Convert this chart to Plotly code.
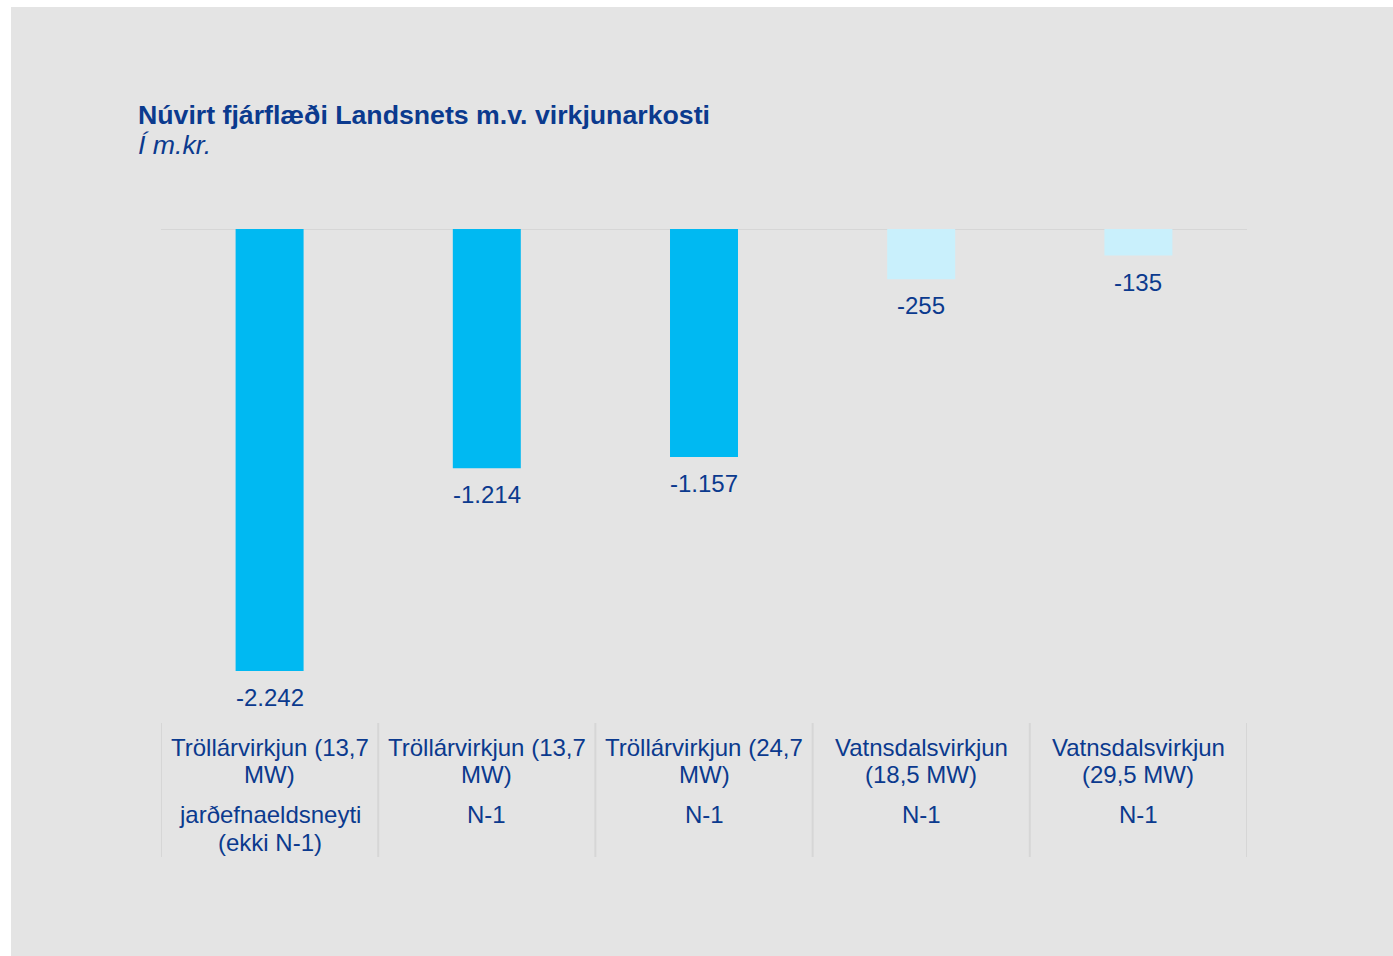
import plotly.graph_objects as go

# data
plants = ['Tröllárvirkjun (13,7<br>MW)', 'Tröllárvirkjun (13,7<br>MW)', 'Tröllárvirkjun (24,7<br>MW)',
          'Vatnsdalsvirkjun<br>(18,5 MW)', 'Vatnsdalsvirkjun<br>(29,5 MW)']
cases = ['jarðefnaeldsneyti<br>(ekki N-1)', 'N-1', 'N-1', 'N-1', 'N-1']
values = [-2242, -1214, -1157, -255, -135]
bar_colors = ['#00b9f2', '#00b9f2', '#00b9f2', '#c9f0fc', '#c9f0fc']

title = 'Núvirt fjárflæði Landsnets m.v. virkjunarkosti'
subtitle = 'Í m.kr.'

FONT = 'Liberation Sans, Arial, sans-serif'
DARK = '#0b3a8e'
BG = '#e4e4e4'
LINE = '#d6d6d6'

PLOT_H = 494  # px height of plot area


def py(offset):
    # pixels below the plot bottom -> paper y
    return -offset / PLOT_H


x = list(range(len(values)))

fig = go.Figure()
fig.add_trace(go.Bar(
    x=x,
    y=values,
    marker={'color': bar_colors, 'line': {'width': 0}},
    width=0.313,
    hoverinfo='skip',
))

# value labels under each bar
for i, v in enumerate(values):
    fig.add_annotation(x=i, y=v, xref='x', yref='y', text=f'{v:,}'.replace(',', '.'),
                       showarrow=False, yanchor='middle', yshift=-26.5,
                       font={'size': 24, 'color': DARK, 'family': FONT})

# category labels (two levels), one annotation per line for tighter spacing
for i in x:
    for j, line in enumerate(plants[i].split('<br>')):
        fig.add_annotation(x=i, y=py(24 + 28 * j), xref='x', yref='paper', text=line,
                           showarrow=False, yanchor='middle',
                           font={'size': 24, 'color': DARK, 'family': FONT})
    for j, line in enumerate(cases[i].split('<br>')):
        fig.add_annotation(x=i, y=py(91 + 28 * j), xref='x', yref='paper', text=line,
                           showarrow=False, yanchor='middle',
                           font={'size': 24, 'color': DARK, 'family': FONT})

# gray card behind everything
fig.add_shape(type='rect', xref='paper', yref='paper', x0=-0.1381, x1=1.2, y0=-0.6, y1=1.4494,
              fillcolor=BG, line={'width': 0}, layer='below')

# zero line
fig.add_shape(type='line', xref='paper', yref='y', x0=0, x1=1, y0=0, y1=0,
              line={'color': LINE, 'width': 2}, layer='below')

# category separators
for k in range(len(values) + 1):
    fig.add_shape(type='line', xref='x', yref='paper', x0=k - 0.5, x1=k - 0.5, y0=0, y1=py(134),
                  line={'color': LINE, 'width': 2}, layer='below')

# title + subtitle
fig.add_annotation(x=-0.023, y=py(115 - 723), xref='paper', yref='paper', xanchor='left', yanchor='middle',
                   text=f'<b>{title}</b>', showarrow=False,
                   font={'size': 26.7, 'color': DARK, 'family': FONT})
fig.add_annotation(x=-0.023, y=py(145 - 723), xref='paper', yref='paper', xanchor='left', yanchor='middle',
                   text=f'<i>{subtitle}</i>', showarrow=False,
                   font={'size': 26.7, 'color': DARK, 'family': FONT})

fig.update_layout(
    width=1393,
    height=956,
    margin={'l': 161, 'r': 146, 't': 229, 'b': 233},
    paper_bgcolor='white',
    plot_bgcolor='rgba(0,0,0,0)',
    showlegend=False,
    font={'family': FONT, 'color': DARK},
)
fig.update_xaxes(range=[-0.5, 4.5], showticklabels=False, showgrid=False, zeroline=False,
                 showline=False, ticks='')
fig.update_yaxes(range=[-2506, 0], visible=False, showgrid=False, zeroline=False)

# drop the default body margin so the figure fills the window
fig.write_html('out.html', config={'displayModeBar': False},
               post_script="document.body.style.margin='0';document.body.style.overflow='hidden';")
